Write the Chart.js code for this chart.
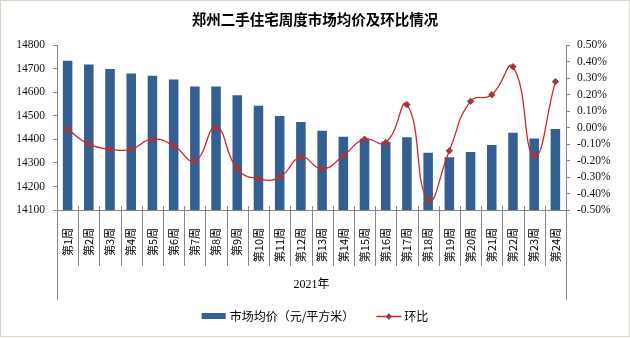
<!DOCTYPE html>
<html lang="zh-CN">
<head>
  <meta charset="UTF-8">
  <title>郑州二手住宅周度市场均价及环比情况</title>
  <script src="https://cdn.jsdelivr.net/npm/chart.js"></script>
  <style>
    body {
      margin: 0;
      background: #ffffff;
    }
    canvas {
      display: block;
    }
  </style>
</head>
<body>
  <canvas id="priceChart" width="630" height="338"></canvas>

  <script>
    const weeks = ['第1周', '第2周', '第3周', '第4周', '第5周', '第6周', '第7周', '第8周',
      '第9周', '第10周', '第11周', '第12周', '第13周', '第14周', '第15周', '第16周',
      '第17周', '第18周', '第19周', '第20周', '第21周', '第22周', '第23周', '第24周'];
    // 元/平方米
    const avgPrice = [14735, 14719, 14700, 14681, 14671, 14655, 14625, 14625, 14588, 14543, 14500, 14474,
      14437, 14412, 14403, 14390, 14409, 14344, 14324, 14347, 14376, 14429, 14404, 14445];
    // 环比, in percent
    const weekChange = [-0.01, -0.10, -0.13, -0.13, -0.07, -0.11, -0.20, 0.00, -0.25, -0.31, -0.30, -0.18,
      -0.25, -0.17, -0.07, -0.09, 0.14, -0.44, -0.14, 0.16, 0.20, 0.37, -0.17, 0.28];
    const yearLabel = '2021年';

    const axisColor = '#868686';
    const barColor = '#365F91';
    const lineColor = '#D0262C';
    const markerColor = '#A0393B';
    const cjk = "'Noto Sans CJK SC', sans-serif";
    const serif = "'Liberation Serif', 'Noto Sans CJK SC', serif";

    // category dividers under the x axis plus the year row
    const groupAxis = {
      id: 'groupAxis',
      afterDraw(chart) {
        const ctx = chart.ctx;
        const x = chart.scales.x;
        const area = chart.chartArea;
        const n = chart.data.labels.length;
        ctx.save();
        ctx.strokeStyle = axisColor;
        ctx.lineWidth = 1;
        for (let i = 0; i <= n; i++) {
          let px;
          if (i === 0) px = area.left;
          else if (i === n) px = area.right;
          else px = (x.getPixelForTick(i - 1) + x.getPixelForTick(i)) / 2;
          px = Math.round(px) + 0.5;
          const outer = i === 0 || i === n;
          ctx.beginPath();
          ctx.moveTo(px, outer ? area.bottom : area.bottom - 4);
          ctx.lineTo(px, outer ? area.bottom + 90 : area.bottom + 56);
          ctx.stroke();
        }
        ctx.fillStyle = '#000';
        ctx.font = '12px ' + serif;
        ctx.textAlign = 'center';
        ctx.textBaseline = 'middle';
        ctx.fillText(yearLabel, (area.left + area.right) / 2, area.bottom + 75);

        // outer frame
        ctx.strokeStyle = '#DAD6C6';
        ctx.strokeRect(0.5, 0.5, 629, 336);
        ctx.restore();
      }
    };

    // legend row at the bottom
    const bottomLegend = {
      id: 'bottomLegend',
      afterDraw(chart) {
        const ctx = chart.ctx;
        const bar = chart.data.datasets[0];
        const line = chart.data.datasets[1];
        ctx.save();
        ctx.font = '12px ' + cjk;
        ctx.textBaseline = 'middle';
        ctx.textAlign = 'left';
        const w1 = ctx.measureText(bar.label).width;
        const w2 = ctx.measureText(line.label).width;
        const total = 24 + 4 + w1 + 22 + 25 + 3 + w2;
        let cx = (chart.width - total) / 2;
        const cy = 316;

        ctx.fillStyle = bar.backgroundColor;
        ctx.fillRect(cx, cy - 3, 24, 6);
        cx += 28;
        ctx.fillStyle = '#000';
        ctx.fillText(bar.label, cx, cy);
        cx += w1 + 22;

        ctx.strokeStyle = line.borderColor;
        ctx.lineWidth = 1.5;
        ctx.beginPath();
        ctx.moveTo(cx, cy + 0.5);
        ctx.lineTo(cx + 25, cy + 0.5);
        ctx.stroke();
        ctx.fillStyle = line.pointBackgroundColor;
        ctx.beginPath();
        ctx.moveTo(cx + 12.5, cy - 3);
        ctx.lineTo(cx + 15.5, cy + 0.5);
        ctx.lineTo(cx + 12.5, cy + 4);
        ctx.lineTo(cx + 9.5, cy + 0.5);
        ctx.closePath();
        ctx.fill();
        cx += 28;
        ctx.fillStyle = '#000';
        ctx.fillText(line.label, cx, cy);
        ctx.restore();
      }
    };

    const ctx = document.getElementById('priceChart').getContext('2d');
    const chart = new Chart(ctx, {
      type: 'bar',
      data: {
        labels: weeks,
        datasets: [
          {
            label: '市场均价（元/平方米）',
            data: avgPrice,
            backgroundColor: barColor,
            yAxisID: 'y',
            categoryPercentage: 1,
            barPercentage: 0.45,
            order: 1
          },
          {
            label: '环比',
            type: 'line',
            data: weekChange,
            yAxisID: 'y1',
            borderColor: lineColor,
            borderWidth: 1.3,
            tension: 0.5,
            pointStyle: 'rectRot',
            pointRadius: 3.2,
            pointBackgroundColor: markerColor,
            pointBorderColor: markerColor,
            pointBorderWidth: 1,
            clip: false,
            order: 0
          }
        ]
      },
      options: {
        responsive: false,
        animation: false,
        layout: {
          padding: { top: 0, bottom: 38, left: 0, right: 0 }
        },
        plugins: {
          legend: { display: false },
          tooltip: { enabled: false },
          title: {
            display: true,
            text: '郑州二手住宅周度市场均价及环比情况',
            color: '#000',
            font: { family: cjk, size: 14.5, weight: 'bold' },
            padding: { top: 11, bottom: 17 }
          }
        },
        scales: {
          x: {
            offset: true,
            grid: { display: false },
            border: { display: true, color: axisColor },
            ticks: {
              autoSkip: false,
              minRotation: 90,
              maxRotation: 90,
              padding: 10,
              color: '#000',
              font: { family: cjk, size: 11 }
            },
            afterFit(scale) { scale.height = 90; }
          },
          y: {
            position: 'left',
            min: 14100,
            max: 14800,
            ticks: {
              stepSize: 100,
              autoSkip: false,
              padding: 8,
              color: '#111',
              font: { family: serif, size: 11.5 },
              callback: v => String(v)
            },
            grid: { drawOnChartArea: false, tickLength: 4, color: axisColor },
            border: { color: axisColor },
            afterFit(scale) { scale.width = 57; }
          },
          y1: {
            position: 'right',
            min: -0.5,
            max: 0.5,
            ticks: {
              stepSize: 0.1,
              autoSkip: false,
              padding: 7,
              color: '#111',
              font: { family: serif, size: 11.5 },
              callback: v => v.toFixed(2) + '%'
            },
            grid: { drawOnChartArea: false, tickLength: 4, color: axisColor },
            border: { color: axisColor },
            afterFit(scale) { scale.width = 64; }
          }
        }
      },
      plugins: [groupAxis, bottomLegend]
    });
  </script>
</body>
</html>
